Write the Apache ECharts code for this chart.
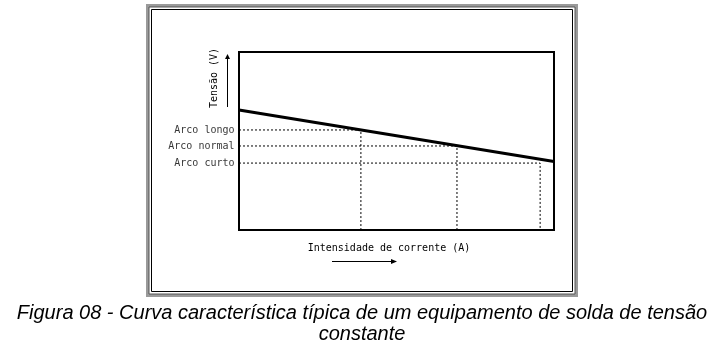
<!DOCTYPE html>
<html>
<head>
<meta charset="utf-8">
<script src="https://cdn.jsdelivr.net/npm/echarts@6/dist/echarts.min.js"></script>
<style>html,body{margin:0;padding:0;background:#fff}#c{width:726px;height:350px}</style>
</head>
<body>
<div id="c"></div>
<script>
// Characteristic line (current in arbitrary units 0-100, voltage in arbitrary units 0-100)
var curveX = [0, 100];
var curveY = [67.4, 38.5];
// Operating points
var levelNames = ['Arco longo', 'Arco normal', 'Arco curto'];
var levelX = [38.7, 69.2, 95.6];
var levelY = [56.2, 47.2, 37.6];
var xTitle = 'Intensidade de corrente (A)';
var yTitle = 'Tensão (V)';
var captionLines = ['Figura 08 - Curva característica típica de um equipamento de solda de tensão', 'constante'];

var mono = '"DejaVu Sans Mono", monospace';
var series = [{
  type: 'line',
  data: curveX.map(function (x, i) { return [x, curveY[i]]; }),
  symbol: 'none',
  lineStyle: { color: '#000', width: 3 },
  z: 5,
  silent: true
}];
levelNames.forEach(function (n, i) {
  series.push({
    type: 'line',
    data: [[0, levelY[i]], [levelX[i], levelY[i]], [levelX[i], 0]],
    symbol: 'none',
    lineStyle: { color: '#000', width: 1, type: [2, 2] },
    z: 3,
    silent: true
  });
});
series.push({
  type: 'scatter',
  data: levelNames.map(function (n, i) { return { name: n, value: [0, levelY[i]] }; }),
  symbolSize: 1,
  itemStyle: { color: 'rgba(0,0,0,0)' },
  label: { show: true, position: 'left', distance: 4, formatter: '{b}', color: '#000', fontFamily: mono, fontSize: 10 },
  silent: true,
  z: 6
});

var chart = echarts.init(document.getElementById('c'));
chart.setOption({
  animation: false,
  backgroundColor: '#fff',
  grid: { left: 239, top: 52, width: 315, height: 178, show: true, borderColor: '#000', borderWidth: 2, backgroundColor: 'transparent', containLabel: false },
  xAxis: {
    type: 'value', min: 0, max: 100,
    axisLine: { show: false }, axisTick: { show: false }, axisLabel: { show: false }, splitLine: { show: false }
  },
  yAxis: {
    type: 'value', min: 0, max: 100,
    axisLine: { show: false }, axisTick: { show: false }, axisLabel: { show: false }, splitLine: { show: false }
  },
  series: series,
  graphic: [
    { type: 'rect', shape: { x: 147.5, y: 5.5, width: 429, height: 290 }, style: { fill: 'none', stroke: '#9a9a9a', lineWidth: 3 }, silent: true },
    { type: 'rect', shape: { x: 149, y: 7, width: 426, height: 287 }, style: { fill: 'none', stroke: '#555', lineWidth: 1 }, silent: true },
    { type: 'rect', shape: { x: 151.5, y: 9.5, width: 421, height: 282 }, style: { fill: 'none', stroke: '#000', lineWidth: 1 }, silent: true },
    { type: 'text', x: 214, y: 78, rotation: Math.PI / 2, style: { text: yTitle, fill: '#000', font: '10px ' + mono, align: 'center', verticalAlign: 'middle' }, silent: true },
    { type: 'line', shape: { x1: 227.5, y1: 107, x2: 227.5, y2: 58 }, style: { stroke: '#000', lineWidth: 1 }, silent: true },
    { type: 'polygon', shape: { points: [[227.5, 54], [225, 59], [230, 59]] }, style: { fill: '#000' }, silent: true },
    { type: 'text', x: 389, y: 248, style: { text: xTitle, fill: '#000', font: '10px ' + mono, align: 'center', verticalAlign: 'middle' }, silent: true },
    { type: 'line', shape: { x1: 332, y1: 261.5, x2: 392, y2: 261.5 }, style: { stroke: '#000', lineWidth: 1 }, silent: true },
    { type: 'polygon', shape: { points: [[397, 261.5], [391, 259], [391, 264]] }, style: { fill: '#000' }, silent: true },
    { type: 'text', x: 362, y: 313, style: { text: captionLines[0], fill: '#000', font: 'italic 20px "Liberation Sans", Arial, sans-serif', align: 'center', verticalAlign: 'middle' }, silent: true },
    { type: 'text', x: 362, y: 334, style: { text: captionLines[1], fill: '#000', font: 'italic 20px "Liberation Sans", Arial, sans-serif', align: 'center', verticalAlign: 'middle' }, silent: true }
  ]
});
</script>
</body>
</html>
